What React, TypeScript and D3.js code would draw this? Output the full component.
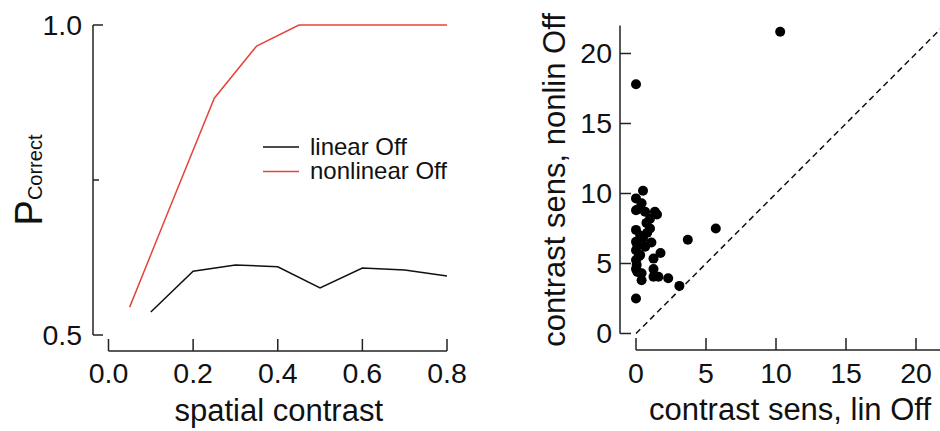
import React from "react";
import * as d3 from "d3";

// Left panel: P correct vs spatial contrast
const linearX = [0.1, 0.2, 0.3, 0.4, 0.5, 0.6, 0.7, 0.8];
const linearY = [0.537, 0.603, 0.613, 0.61, 0.576, 0.608, 0.605, 0.595];
const nonlinX = [0.05, 0.15, 0.25, 0.35, 0.45, 0.55, 0.65, 0.8];
const nonlinY = [0.545, 0.714, 0.882, 0.966, 1.0, 1.0, 1.0, 1.0];
const leftXTicks = [0, 0.2, 0.4, 0.6, 0.8];
const leftYTicks = [0.5, 1.0];
const leftYMinor = [0.75];
const legendLabels = ["linear Off", "nonlinear Off"];

// Right panel: contrast sensitivity scatter
const linSens = [10.3, 0, 0, 3.1, 3.7, 5.7, 0.5, 0, 0.4, 0, 0.65, 1.35, 1.0, 0.75, 1.0, 0, 0.3, 0, 0.5, 1.1,
  0.65, 0, 1.75, 0.3, 1.25, 0, 0.05, 0, 1.25, 0.4, 1.25, 1.6, 2.3, 0.4, 0.1, 0.2, 1.5, 0.1, 0.8, 0.2];
const nonlinSens = [21.55, 17.8, 2.5, 3.4, 6.7, 7.5, 10.2, 9.65, 9.3, 8.8, 8.7, 8.7, 8.2, 7.9, 7.5, 7.4, 7.0, 6.55, 6.8, 6.5,
  6.2, 5.95, 5.75, 5.6, 5.35, 5.25, 4.9, 4.6, 4.6, 4.3, 4.05, 4.05, 3.95, 3.8, 4.4, 5.5, 8.5, 6.3, 7.2, 8.9];
const rightTicks = [0, 5, 10, 15, 20];

const FONT = "'Liberation Sans', Arial, Helvetica, sans-serif";
const AX = "#222";
const RED = "#e5443b";
const TICK_FS = 28.5;
const TITLE_FS = 31;

export default function App() {
  // left scales
  const lx = d3.scaleLinear().domain([0, 0.8]).range([108.5, 447]);
  const ly = d3.scaleLinear().domain([0.5, 1.0]).range([335, 25]);
  const lineGen = d3.line<[number, number]>().x(d => lx(d[0])).y(d => ly(d[1]));
  const linPts: [number, number][] = linearX.map((x, i) => [x, linearY[i]]);
  const nonPts: [number, number][] = nonlinX.map((x, i) => [x, nonlinY[i]]);
  const lAxisX = 93;
  const lAxisY = 351;

  // right scales
  const rx = d3.scaleLinear().domain([0, 22]).range([636, 944]);
  const ry = d3.scaleLinear().domain([0, 22]).range([333.5, 25.5]);
  const rAxisX = 620;
  const rAxisY = 350;

  return (
    <svg width={940} height={431} style={{ position: "absolute", left: 0, top: 0 }} fontFamily={FONT}>
      <rect width={940} height={431} fill="#fff" />
      {/* ===== Left panel ===== */}
      <line x1={lAxisX} x2={lAxisX} y1={ly(1.0)} y2={ly(0.5)} stroke={AX} strokeWidth={1.5} />
      {leftYTicks.map(t => (
        <g key={"ly" + t}>
          <line x1={lAxisX} x2={lAxisX + 10} y1={ly(t)} y2={ly(t)} stroke={AX} strokeWidth={1.5} />
          <text x={82} y={ly(t)} dy="0.35em" textAnchor="end" fontSize={TICK_FS} fill="#111">{t.toFixed(1)}</text>
        </g>
      ))}
      {leftYMinor.map(t => (
        <line key={"lym" + t} x1={lAxisX} x2={lAxisX + 6} y1={ly(t)} y2={ly(t)} stroke={AX} strokeWidth={1.5} />
      ))}
      <line x1={lx(0)} x2={lx(0.8)} y1={lAxisY} y2={lAxisY} stroke={AX} strokeWidth={1.5} />
      {leftXTicks.map(t => (
        <g key={"lx" + t}>
          <line x1={lx(t)} x2={lx(t)} y1={lAxisY} y2={lAxisY - 12} stroke={AX} strokeWidth={1.5} />
          <text x={lx(t)} y={383} textAnchor="middle" fontSize={TICK_FS} fill="#111">{t.toFixed(1)}</text>
        </g>
      ))}
      <text x={(lx(0) + lx(0.8)) / 2 + 1} y={421} textAnchor="middle" fontSize={TITLE_FS} fill="#111">spatial contrast</text>
      <text transform={`translate(42,180) rotate(-90)`} textAnchor="middle" fill="#111">
        <tspan fontSize={38}>P</tspan>
        <tspan fontSize={20}>Correct</tspan>
      </text>
      <path d={lineGen(nonPts) || ""} fill="none" stroke={RED} strokeWidth={1.5} />
      <path d={lineGen(linPts) || ""} fill="none" stroke="#111" strokeWidth={1.5} />
      {legendLabels.map((lab, i) => (
        <g key={lab}>
          <line x1={263} x2={299} y1={147 + i * 24.5} y2={147 + i * 24.5} stroke={i === 0 ? "#111" : RED} strokeWidth={1.5} />
          <text x={310} y={154.5 + i * 24.5} fontSize={24} fill="#111">{lab}</text>
        </g>
      ))}

      {/* ===== Right panel ===== */}
      <line x1={rAxisX} x2={rAxisX} y1={ry(22)} y2={ry(0)} stroke={AX} strokeWidth={1.5} />
      {rightTicks.map(t => (
        <g key={"ry" + t}>
          <line x1={rAxisX} x2={rAxisX + 11} y1={ry(t)} y2={ry(t)} stroke={AX} strokeWidth={1.5} />
          <text x={612} y={ry(t)} dy="0.35em" textAnchor="end" fontSize={TICK_FS} fill="#111">{t}</text>
        </g>
      ))}
      <line x1={rx(0)} x2={rx(22)} y1={rAxisY} y2={rAxisY} stroke={AX} strokeWidth={1.5} />
      {rightTicks.map(t => (
        <g key={"rx" + t}>
          <line x1={rx(t)} x2={rx(t)} y1={rAxisY} y2={rAxisY - 12} stroke={AX} strokeWidth={1.5} />
          <text x={rx(t)} y={383} textAnchor="middle" fontSize={TICK_FS} fill="#111">{t}</text>
        </g>
      ))}
      <text x={790} y={420} textAnchor="middle" fontSize={TITLE_FS} fill="#111">contrast sens, lin Off</text>
      <text transform={`translate(565,180) rotate(-90)`} textAnchor="middle" fontSize={TITLE_FS} fill="#111">contrast sens, nonlin Off</text>
      <line x1={rx(0)} y1={ry(0)} x2={rx(22)} y2={ry(22)} stroke="#111" strokeWidth={1.5} strokeDasharray="6,4" />
      {linSens.map((x, i) => (
        <circle key={"p" + i} cx={rx(x)} cy={ry(nonlinSens[i])} r={5} fill="#000" />
      ))}
    </svg>
  );
}
